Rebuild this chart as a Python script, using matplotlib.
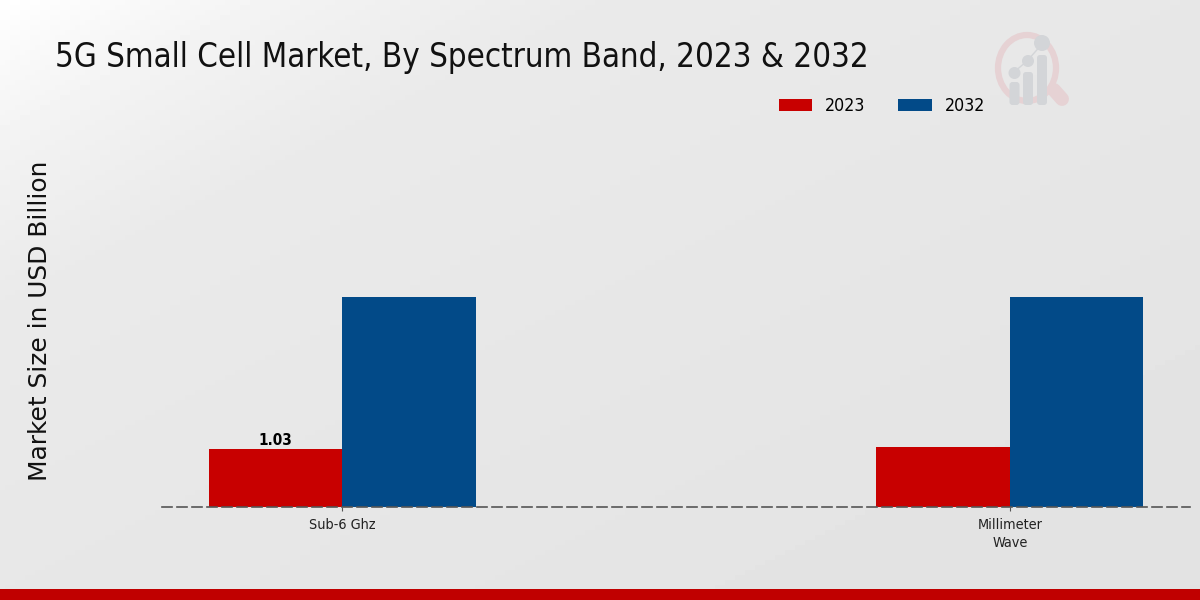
import numpy as np
import matplotlib
matplotlib.use("Agg")
import matplotlib.pyplot as plt
from matplotlib.patches import Circle, Ellipse, FancyBboxPatch

categories = ["Sub-6 Ghz", "Millimeter\nWave"]
years = ["2023", "2032"]
values_2023 = [1.03, 1.07]
values_2032 = [3.75, 3.75]
colors = ["#c80000", "#024a88"]

W, H = 1200, 600
fig = plt.figure(figsize=(12, 6), dpi=100)

# background gradient + footer + logo, all in pixel coords
bg = fig.add_axes([0, 0, 1, 1], zorder=0)
bg.axis("off")
xx, yy = np.meshgrid(np.linspace(0, W, 240), np.linspace(0, H, 120))
t = xx + 2 * yy
grad = np.interp(t, [0, 100, 300, 600, 1200, 2400], [255, 250, 242, 234, 231, 226]) / 255
bg.imshow(grad, cmap="gray", vmin=0, vmax=1, extent=[0, W, H, 0], aspect="auto")
bg.axhspan(589, 600, color="#c00000", lw=0)

ring = "#e6d2d4"
grey = "#d3d5d8"
bg.plot([1054, 1062], [90, 99], color=ring, lw=10, solid_capstyle="round")
bg.add_patch(Ellipse((1027, 68), 58, 66, fill=False, edgecolor=ring, lw=4.5))
bg.plot([1013, 1027, 1043], [73, 61, 43], color=grey, lw=1)
for cx, cy, r, top in [(1014.5, 73, 6, 82), (1028, 61, 6, 72), (1042, 43, 8, 55)]:
    bg.add_patch(Circle((cx, cy), r, color=grey, lw=0))
    bg.add_patch(FancyBboxPatch((cx - 2, top + 3), 4, 105 - top - 6,
                                boxstyle="round,pad=3", color=grey, lw=0))
bg.set_xlim(0, W)
bg.set_ylim(H, 0)

# main axes placed to match the plot area
ax = fig.add_axes([162 / W, 1 - 507 / H, (1190 - 162) / W, (507 - 90) / H], zorder=1)
ax.patch.set_alpha(0)
x = np.arange(len(categories))
bar_w = 0.2
ax.bar(x - bar_w / 2, values_2023, bar_w, color=colors[0], edgecolor="none", label=years[0])
ax.bar(x + bar_w / 2, values_2032, bar_w, color=colors[1], edgecolor="none", label=years[1])
ax.set_xlim(-0.27, 1.27)
ax.set_ylim(0, 417 / 56)

for s in ["top", "left", "right"]:
    ax.spines[s].set_visible(False)
ax.spines["bottom"].set_linestyle((0, (6, 3)))
ax.spines["bottom"].set_color("#555555")
ax.spines["bottom"].set_linewidth(1.2)
ax.set_yticks([])
ax.set_xticks(x)
ax.set_xticklabels(categories, fontsize=10.4, stretch="condensed", color="#222222", linespacing=1.35)
ax.tick_params(axis="x", length=3, color="#555555", pad=5)

ax.text(x[0] - bar_w / 2, values_2023[0] + 0.02, f"{values_2023[0]:.2f}", ha="center", va="bottom",
        fontsize=11, fontweight="bold", stretch="condensed", color="black")

fig.text(55 / W, 1 - 58 / H, "5G Small Cell Market, By Spectrum Band, 2023 & 2032", fontsize=23.7,
         stretch="condensed", va="center", ha="left", color="#111111")
fig.text(40 / W, 1 - 321 / H, "Market Size in USD Billion", fontsize=17.9, rotation=90,
         va="center", ha="center", color="#111111")

fig.legend(loc="center left", bbox_to_anchor=(779 / W, 1 - 106 / H), ncol=2, frameon=False,
           prop={"size": 12.8, "stretch": "condensed"}, handlelength=1.87, handleheight=0.67,
           columnspacing=1.85, handletextpad=0.73, borderaxespad=0, borderpad=0)

fig.savefig("out.png", dpi=100)
